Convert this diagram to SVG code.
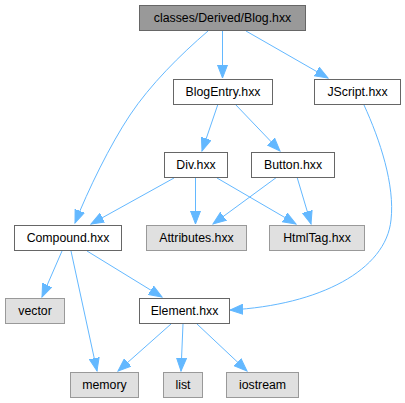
<svg xmlns="http://www.w3.org/2000/svg" width="405" height="403" viewBox="0 0 405 403">
<defs>
<style>
.n rect{fill:#ffffff;stroke:#666666;stroke-width:1}
.n.root rect{fill:#999999;stroke:#666666}
.n.ext rect{fill:#e0e0e0;stroke:#999999}
.n text{font-family:"Liberation Sans",Arial,Helvetica,sans-serif;font-size:12.3px;fill:#000000;text-anchor:middle}
.e path{fill:none;stroke:#63b8ff;stroke-width:1;marker-end:url(#arr)}
</style>
<marker id="arr" markerUnits="userSpaceOnUse" markerWidth="14" markerHeight="11" refX="13" refY="5.5" orient="auto">
<path d="M0,0.5 L13,5.5 L0,10.5 z" fill="#63b8ff" stroke="#63b8ff" stroke-width="1"/>
</marker>
</defs>
<rect width="405" height="403" fill="#ffffff"/>
<g id="edges" class="e">
<path d="M208,31 C180,55 150,85 130,115 C110,145 88,190 75,223"/>
<path d="M222.5,31 L222.5,78"/>
<path d="M246,31 L328,78"/>
<path d="M218,104 L202,151"/>
<path d="M235,104 L280,151"/>
<path d="M364,105 C380,140 395,185 391,220 C386,270 320,305 230,310"/>
<path d="M174,178 L91,224"/>
<path d="M195.5,178 L195.5,224"/>
<path d="M217,178 L296,224"/>
<path d="M277,177 L213,224"/>
<path d="M297,177 L311,224"/>
<path d="M62,251 L42,297"/>
<path d="M71,251 L97,371"/>
<path d="M87,251 L162,297"/>
<path d="M171,324 L118,371"/>
<path d="M183,324 L181,371"/>
<path d="M197,324 L247,371"/>
</g>
<g id="node-blog" class="n root"><rect x="139.5" y="5.5" width="166" height="25"/><text x="222.5" y="22">classes/Derived/Blog.hxx</text></g>
<g id="node-blogentry" class="n"><rect x="173.5" y="79.5" width="99" height="25"/><text x="223" y="96">BlogEntry.hxx</text></g>
<g id="node-jscript" class="n"><rect x="314.5" y="79.5" width="86" height="25"/><text x="357.5" y="96">JScript.hxx</text></g>
<g id="node-div" class="n"><rect x="164.5" y="152.5" width="63" height="25"/><text x="196" y="169">Div.hxx</text></g>
<g id="node-button" class="n"><rect x="251.5" y="152.5" width="83" height="25"/><text x="293" y="169">Button.hxx</text></g>
<g id="node-compound" class="n"><rect x="14.5" y="225.5" width="107" height="25"/><text x="68" y="242">Compound.hxx</text></g>
<g id="node-attributes" class="n ext"><rect x="146.5" y="225.5" width="100" height="25"/><text x="196.5" y="242">Attributes.hxx</text></g>
<g id="node-htmltag" class="n ext"><rect x="269.5" y="225.5" width="95" height="25"/><text x="317" y="242">HtmlTag.hxx</text></g>
<g id="node-vector" class="n ext"><rect x="5.5" y="298.5" width="59" height="25"/><text x="35" y="315">vector</text></g>
<g id="node-element" class="n"><rect x="139.5" y="298.5" width="90" height="25"/><text x="184.5" y="315">Element.hxx</text></g>
<g id="node-memory" class="n ext"><rect x="70.5" y="372.5" width="68" height="25"/><text x="104.5" y="389">memory</text></g>
<g id="node-list" class="n ext"><rect x="163.5" y="372.5" width="39" height="25"/><text x="183" y="389">list</text></g>
<g id="node-iostream" class="n ext"><rect x="226.5" y="372.5" width="72" height="25"/><text x="262.5" y="389">iostream</text></g>
</svg>
